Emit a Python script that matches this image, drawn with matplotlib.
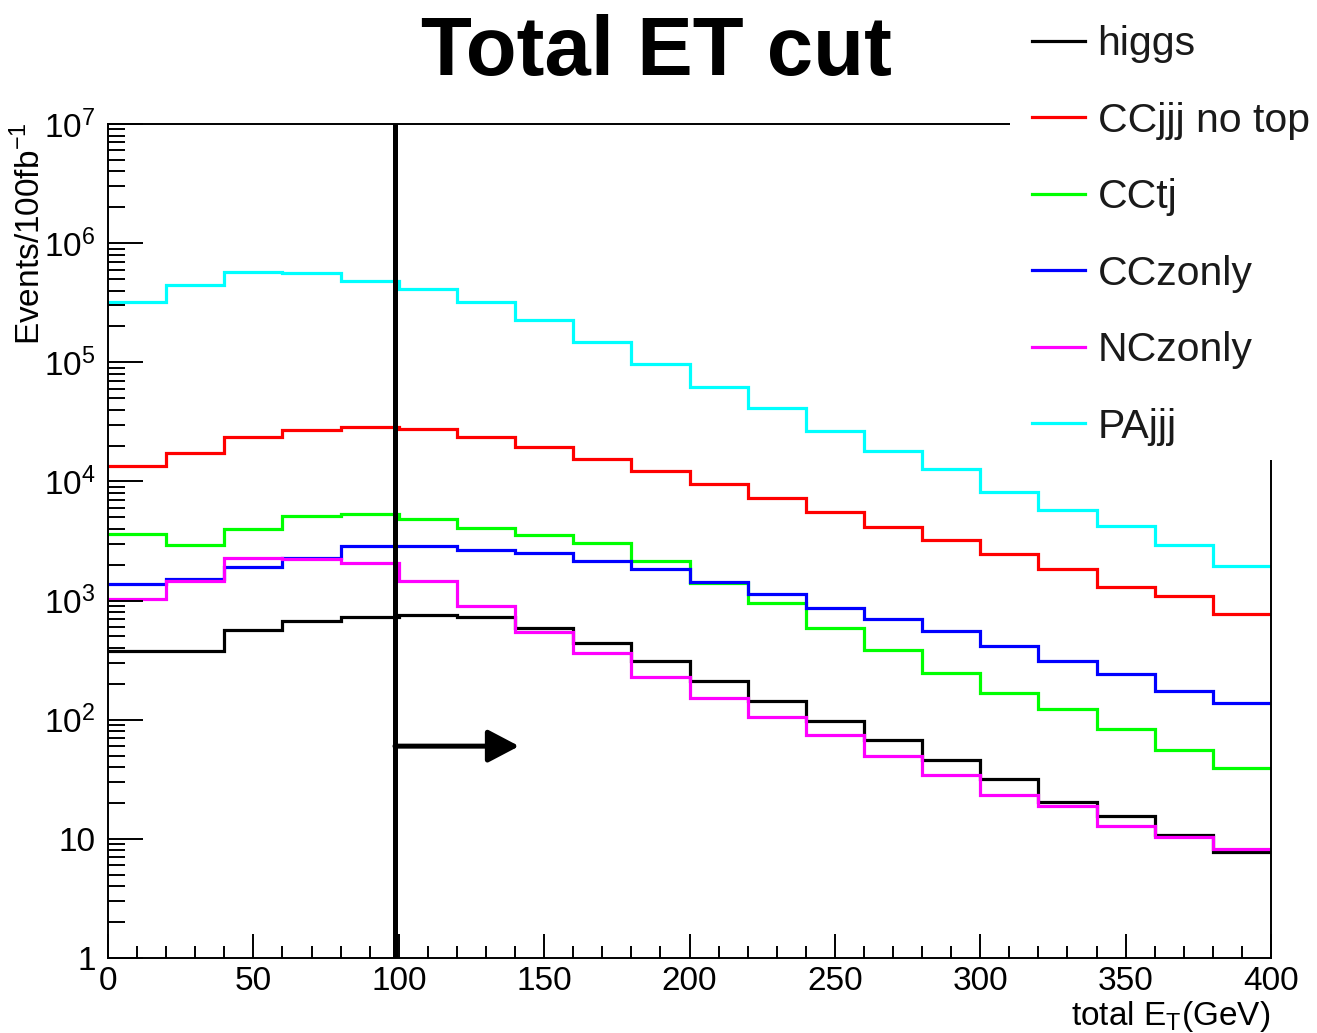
import numpy as np
import matplotlib
matplotlib.use("Agg")
import matplotlib.pyplot as plt
from matplotlib.ticker import FixedLocator, LogLocator, MultipleLocator, NullFormatter
from matplotlib.patches import Rectangle
from matplotlib.lines import Line2D

plt.rcParams['font.family'] = ['Liberation Sans', 'DejaVu Sans']

# ---------------- data ----------------
bin_edges = [0, 20, 40, 60, 80, 100, 120, 140, 160, 180, 200,
             220, 240, 260, 280, 300, 320, 340, 360, 380, 400]

higgs = [377, 380, 570, 670, 728, 762, 732, 589, 440, 313,
         211, 144, 97.5, 67.2, 45.9, 31.6, 20.5, 15.6, 10.8, 7.8]
ccjjj_no_top = [13500, 17400, 23500, 27000, 28800, 27500, 23700, 19600, 15500, 12200,
                9460, 7310, 5540, 4170, 3220, 2460, 1830, 1310, 1090, 767]
cctj = [3640, 2930, 3960, 5130, 5330, 4840, 4060, 3530, 3030, 2150,
        1400, 948, 592, 387, 248, 167, 122, 83.6, 55.4, 39.1]
cczonly = [1390, 1520, 1900, 2290, 2890, 2890, 2670, 2490, 2160, 1830,
           1440, 1140, 871, 697, 552, 418, 313, 243, 173, 139]
nczonly = [1030, 1470, 2290, 2230, 2060, 1470, 906, 542, 363, 230,
           153, 105, 74.4, 49.3, 34.4, 23.3, 19.0, 12.7, 10.3, 8.27]
pajjj = [323000, 448000, 569000, 561000, 479000, 415000, 323000, 225000, 149000, 96800,
         61700, 41100, 26700, 18100, 12600, 8200, 5750, 4250, 2930, 1960]

series_names = ["higgs", "CCjjj no top", "CCtj", "CCzonly", "NCzonly", "PAjjj"]
series_values = [higgs, ccjjj_no_top, cctj, cczonly, nczonly, pajjj]
series_colors = ["#000000", "#ff0000", "#00ff00", "#0000ff", "#ff00ff", "#00ffff"]

cut_value = 98.7
arrow_end = 141.4
arrow_level = 60

ytick_values = [1, 10, 1e2, 1e3, 1e4, 1e5, 1e6, 1e7]
ytick_labels = ["1", "10", r"$\mathregular{10^{2}}$", r"$\mathregular{10^{3}}$",
                r"$\mathregular{10^{4}}$", r"$\mathregular{10^{5}}$",
                r"$\mathregular{10^{6}}$", r"$\mathregular{10^{7}}$"]
xtick_values = [0, 50, 100, 150, 200, 250, 300, 350, 400]
xtick_labels = ["0", "50", "100", "150", "200", "250", "300", "350", "400"]

# ---------------- figure ----------------
W, H = 1317, 1033
fig = plt.figure(figsize=(W / 100, H / 100), dpi=100)
L, R, T, B = 108, 1271, 124, 958
ax = fig.add_axes([L / W, 1 - B / H, (R - L) / W, (B - T) / H])

for name, vals, col in zip(series_names, series_values, series_colors):
    ax.stairs(vals, bin_edges, baseline=None, color=col, lw=2.3, label=name)

ax.set_yscale('log')
ax.set_xlim(bin_edges[0], bin_edges[-1])
ax.set_ylim(1, 1e7)

ax.axvline(cut_value, color='k', lw=3.6, zorder=5)
ax.annotate('', xy=(arrow_end, arrow_level), xytext=(cut_value, arrow_level),
            arrowprops=dict(arrowstyle='-|>,head_length=0.95,head_width=0.5',
                            lw=3.6, color='k', shrinkA=0, shrinkB=0,
                            mutation_scale=20), zorder=6)

ax.yaxis.set_major_locator(FixedLocator(ytick_values))
ax.set_yticklabels(ytick_labels)
ax.yaxis.set_minor_locator(LogLocator(base=10, subs=np.arange(2, 10)))
ax.yaxis.set_minor_formatter(NullFormatter())
ax.xaxis.set_major_locator(FixedLocator(xtick_values))
ax.set_xticklabels(xtick_labels)
ax.xaxis.set_minor_locator(MultipleLocator(10))

ax.tick_params(axis='y', which='major', direction='in', length=25, width=1.4,
               labelsize=24, pad=9)
ax.tick_params(axis='y', which='minor', direction='in', length=12, width=1.4)
ax.tick_params(axis='x', which='major', direction='in', length=17, width=1.4,
               labelsize=24, pad=6)
ax.tick_params(axis='x', which='minor', direction='in', length=8.6, width=1.4)
for s in ax.spines.values():
    s.set_linewidth(1.4)

# title and axis labels
fig.text(656 / W, 1 - 75 / H, "Total ET cut", ha='center', va='baseline',
         fontsize=60, fontweight='bold')
fig.text(1270 / W, 1 - 1025 / H, r"total E$_{\mathregular{T}}$(GeV)", ha='right',
         va='baseline', fontsize=24)
fig.text(30 / W, 1 - 122 / H, r"Events/100fb$^{\mathregular{-1}}$", ha='center',
         va='top', rotation=90, fontsize=24)

# white legend pad covering the frame corner
fig.patches.append(Rectangle((1010 / W, 1 - 460 / H), 1 - 1010 / W, 460 / H,
                             transform=fig.transFigure, facecolor='white',
                             edgecolor='none', zorder=2))
handles = [Line2D([], [], color=c, lw=2.3) for c in series_colors]
leg = fig.legend(handles, series_names, loc='upper left',
                 bbox_to_anchor=(1032 / W, 1 - 25 / H), frameon=False,
                 fontsize=29.5, handlelength=1.3, handletextpad=0.3,
                 labelspacing=0.94, borderaxespad=0, borderpad=0)
leg.set_zorder(10)
for t in leg.get_texts():
    t.set_color('#1a1a1a')

fig.savefig("out.png", dpi=100)
